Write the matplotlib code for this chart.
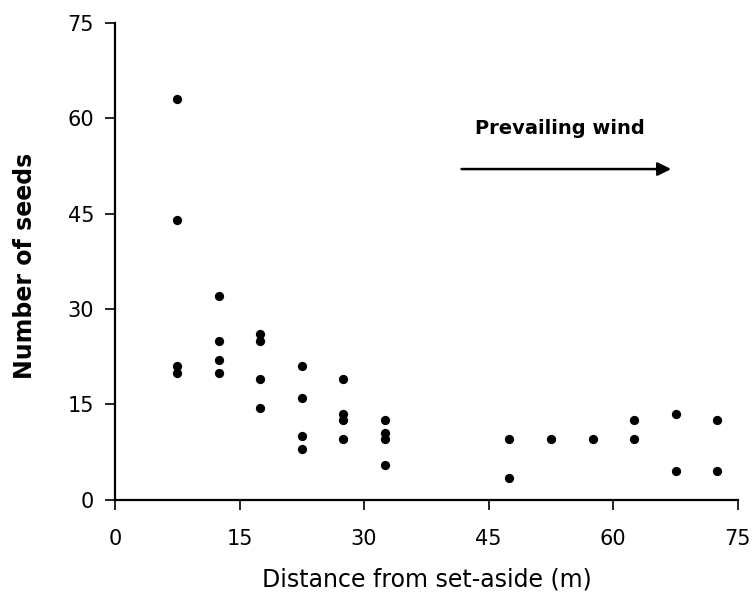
#!/usr/bin/env python3
"""Nombre de graines en fonction de la distance a la jachere (set-aside)."""
import matplotlib
matplotlib.use("Agg")
import matplotlib.pyplot as plt

# distances (m) et nombre de graines
DIST = [7.5, 7.5, 7.5, 7.5,
        12.5, 12.5, 12.5, 12.5,
        17.5, 17.5, 17.5, 17.5,
        22.5, 22.5, 22.5, 22.5,
        27.5, 27.5, 27.5, 27.5,
        32.5, 32.5, 32.5, 32.5,
        47.5, 47.5,
        52.5,
        57.5,
        62.5, 62.5,
        67.5, 67.5,
        72.5, 72.5]
SEEDS = [63, 44, 21, 20,
         32, 25, 22, 20,
         26, 25, 19, 14.5,
         21, 16, 10, 8,
         19, 13.5, 12.5, 9.5,
         12.5, 10.5, 9.5, 5.5,
         9.5, 3.5,
         9.5,
         9.5,
         12.5, 9.5,
         13.5, 4.5,
         12.5, 4.5]

TICKS = [0, 15, 30, 45, 60, 75]
WIND_FROM = (41.4, 52)
WIND_TO = (67.3, 52)

plt.rcParams["font.family"] = ["DejaVu Sans"]

fig = plt.figure(figsize=(7.56, 5.98), dpi=100)
ax = fig.add_axes([0.152, 0.164, 0.824, 0.798])

ax.scatter(DIST, SEEDS, s=32, color="black", zorder=3)

ax.set_xlim(0, 75)
ax.set_ylim(0, 75)
ax.set_xticks(TICKS)
ax.set_yticks(TICKS)
ax.tick_params(axis="both", direction="out", length=7, width=1.2,
               labelsize=15)
ax.tick_params(axis="x", pad=14)
ax.tick_params(axis="y", pad=8)

for side in ("top", "right"):
    ax.spines[side].set_visible(False)
for side in ("left", "bottom"):
    ax.spines[side].set_linewidth(1.6)

ax.set_xlabel("Distance from set-aside (m)", fontsize=17, va="center")
ax.xaxis.set_label_coords(0.5, -0.166)
ax.set_ylabel("Number of seeds", fontsize=17, fontweight="bold",
              va="center")
ax.yaxis.set_label_coords(-0.144, 0.49)

# fleche du vent dominant
ax.annotate("", xy=WIND_TO, xytext=WIND_FROM,
            arrowprops=dict(arrowstyle="-|>", color="black", lw=1.8,
                            mutation_scale=20))
ax.text(53.6, 58.3, "Prevailing wind", ha="center", va="center",
        fontsize=14, fontweight="bold")

fig.savefig("out.png", dpi=100)
plt.close(fig)
